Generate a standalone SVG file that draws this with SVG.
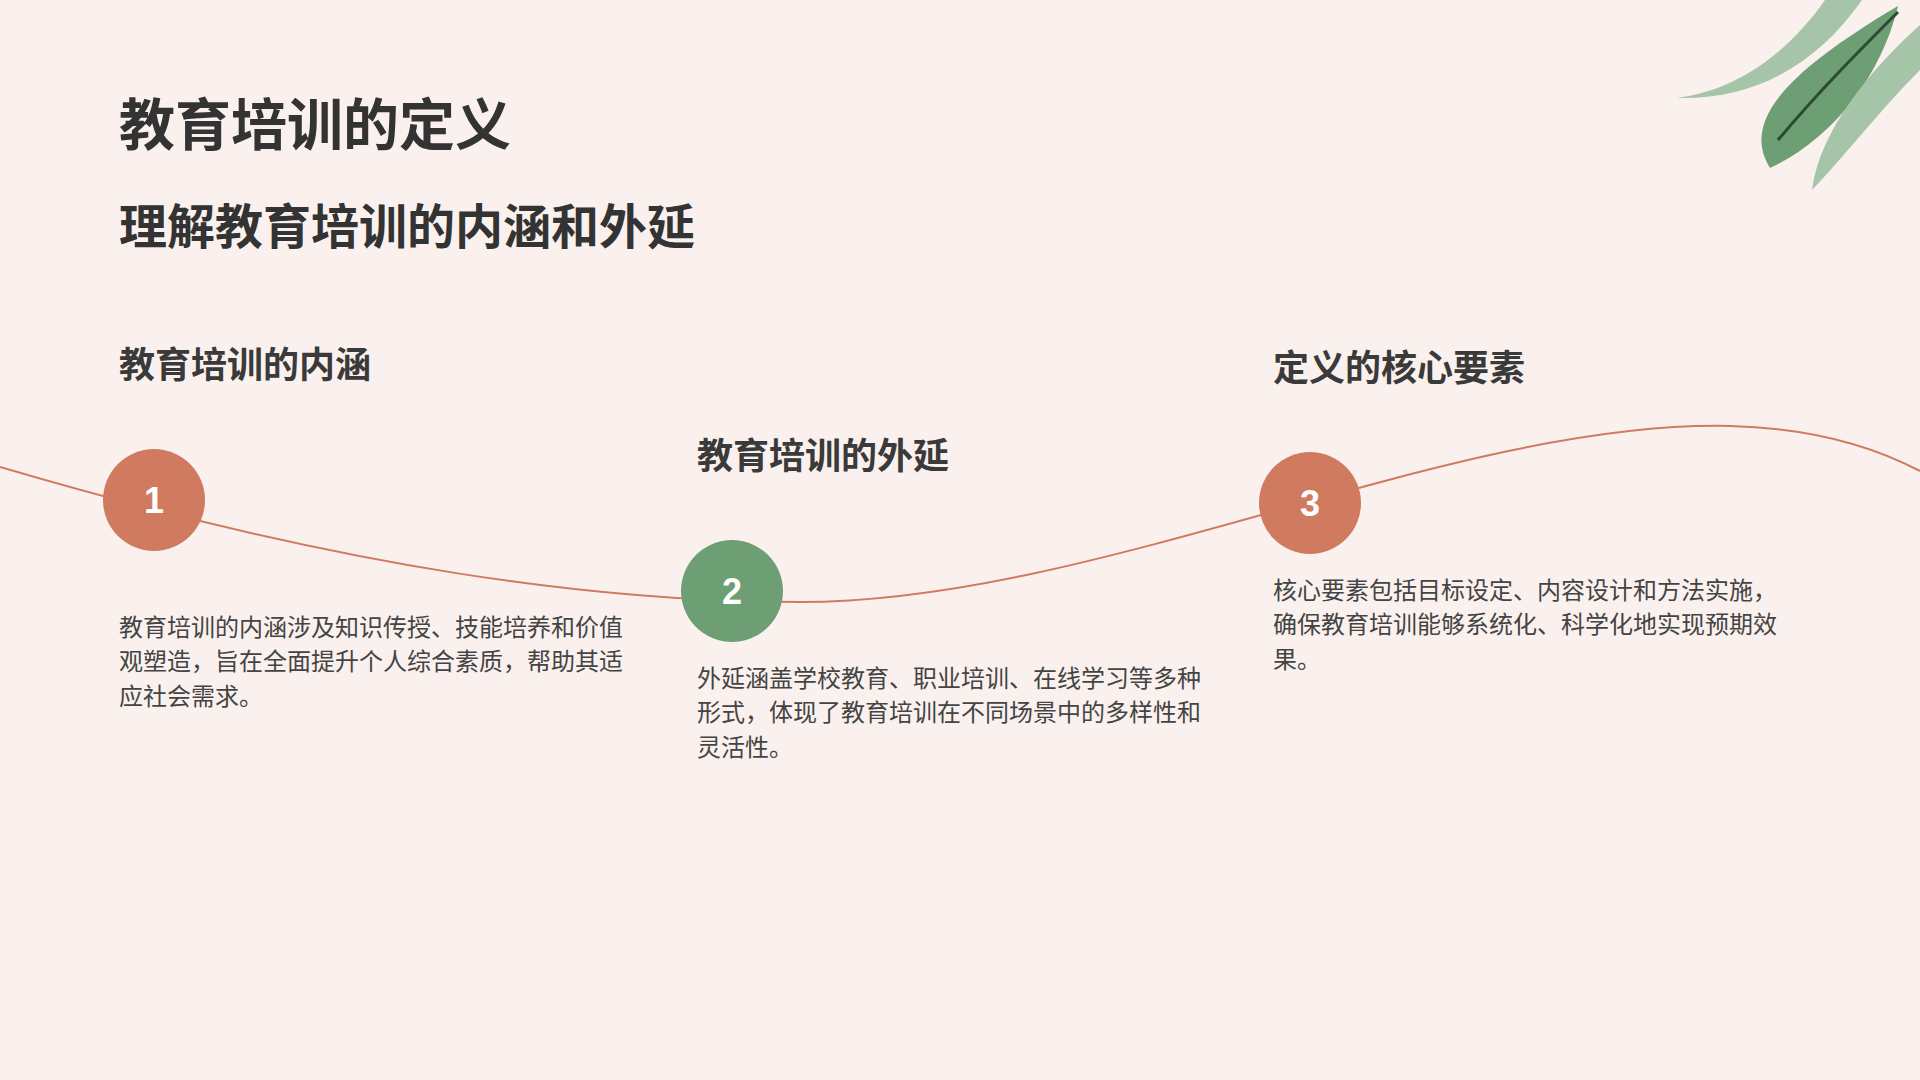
<svg xmlns="http://www.w3.org/2000/svg" width="1920" height="1080" viewBox="0 0 1920 1080">
<style>
text{font-family:"Noto Sans CJK SC","Liberation Sans",sans-serif;}
.h{font-weight:bold;fill:#3a3a3a;font-size:36px}
.b{fill:#444;font-size:24px}
.n{fill:#fff;font-size:36px;font-weight:bold;text-anchor:middle;font-family:"Liberation Sans",sans-serif}
</style>
<rect width="1920" height="1080" fill="#FAF1EE"/>
<g id="leaves">
<path d="M1677,98 C1740,90 1790,50 1825,0 L1862,0 C1820,60 1760,100 1677,98 Z" fill="#A6C4A8"/>
<path d="M1770,168 C1740,120 1790,70 1898,6 C1880,80 1830,140 1770,168 Z" fill="#6E9E74"/>
<path d="M1778,140 C1820,90 1860,50 1898,12" stroke="#2F4A33" stroke-width="3" fill="none"/>
<path d="M1812,190 C1820,130 1870,70 1920,25 L1920,70 C1880,110 1850,150 1812,190 Z" fill="#A6C4A8"/>
</g>
<g id="title">
<text x="119" y="145" font-size="56" font-weight="bold" fill="#333">教育培训的定义</text>
<text x="119" y="244" font-size="48" font-weight="bold" fill="#333">理解教育培训的内涵和外延</text>
</g>
<g id="connectors">
<path d="M0,467 C350,570 600,602 800,602 C1100,602 1450,420 1730,426 C1820,428 1880,450 1920,471" stroke="#D07A60" stroke-width="2" fill="none"/>
</g>
<g id="node1">
<text class="h" x="119" y="378">教育培训的内涵</text>
<circle cx="154" cy="500" r="51" fill="#D07A60"/>
<text class="n" x="154" y="513">1</text>
<text class="b" x="119" y="636">教育培训的内涵涉及知识传授、技能培养和价值</text>
<text class="b" x="119" y="670">观塑造，旨在全面提升个人综合素质，帮助其适</text>
<text class="b" x="119" y="705">应社会需求。</text>
</g>
<g id="node2">
<text class="h" x="697" y="469">教育培训的外延</text>
<circle cx="732" cy="591" r="51" fill="#6E9E74"/>
<text class="n" x="732" y="604">2</text>
<text class="b" x="697" y="687">外延涵盖学校教育、职业培训、在线学习等多种</text>
<text class="b" x="697" y="721">形式，体现了教育培训在不同场景中的多样性和</text>
<text class="b" x="697" y="756">灵活性。</text>
</g>
<g id="node3">
<text class="h" x="1273" y="381">定义的核心要素</text>
<circle cx="1310" cy="503" r="51" fill="#D07A60"/>
<text class="n" x="1310" y="516">3</text>
<text class="b" x="1273" y="599">核心要素包括目标设定、内容设计和方法实施，</text>
<text class="b" x="1273" y="633">确保教育培训能够系统化、科学化地实现预期效</text>
<text class="b" x="1273" y="668">果。</text>
</g>
</svg>
